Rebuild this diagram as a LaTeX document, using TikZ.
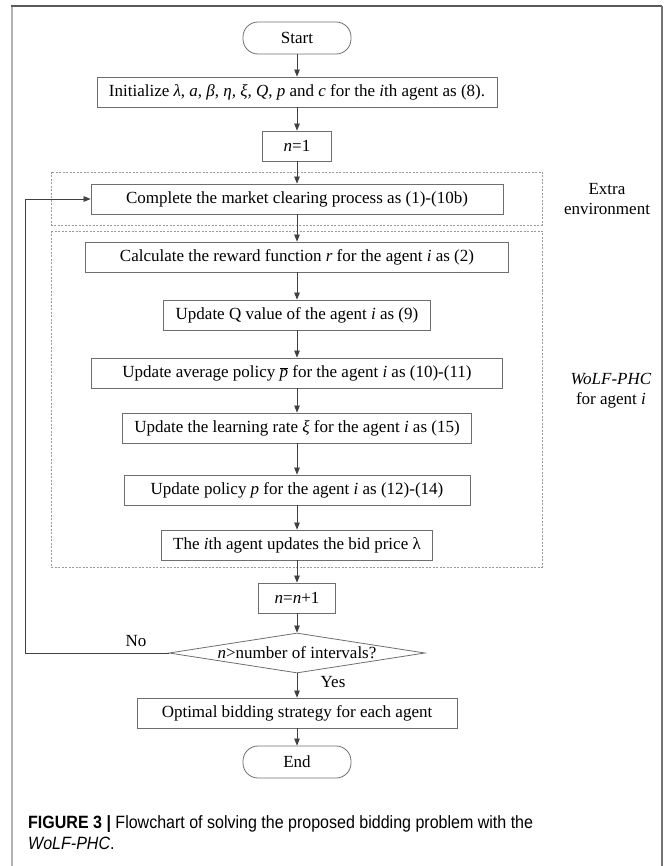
\documentclass[tikz,border=0pt]{standalone}
\usepackage{fontspec}
\setmainfont{Liberation Serif}
\newfontfamily\capfont[FakeStretch=0.9]{Liberation Sans}
\usetikzlibrary{arrows.meta,shapes.geometric,positioning}
\definecolor{linegray}{HTML}{6E6E6E}
\definecolor{dashgray}{HTML}{9A9A9A}
\begin{document}
\begin{tikzpicture}[x=1pt, y=-1pt,
  every node/.style={font=\fontsize{17}{20}\selectfont},
  stepbox/.style={draw=linegray, line width=0.8pt, minimum height=30pt, inner xsep=12pt, inner ysep=0pt},
  terminal/.style={stepbox, rounded corners=15pt, minimum width=108pt, minimum height=32pt},
  decision/.style={draw=linegray, line width=0.8pt, diamond, aspect=6.4, inner sep=0pt, minimum width=256pt, minimum height=40pt},
  flow/.style={draw=black!75, line width=0.7pt, -{Triangle[length=7pt,width=5.5pt]}},
  envbox/.style={draw=dashgray, line width=0.6pt, dash pattern=on 2pt off 1.5pt}]
  \useasboundingbox (0,0) rectangle (666,866);
  % Frame
  \draw[draw=black!30, line width=2.5pt] (12,866) -- (12,6);
  \draw[draw=black!65, line width=1.5pt] (11,6) -- (662,6);
  \draw[draw=black!55, line width=1.5pt] (662,6) -- (662,866);
  % Dashed groups
  \draw[envbox] (51,172) rectangle (542,225);
  \draw[envbox] (51,231) rectangle (542,567);
  \node[align=center] (extralabel) at (607,199) {Extra\\environment};
  \node[align=center] (wolflabel) at (611,391) {\textit{WoLF-PHC}\\for agent \textit{i}};
  % Steps
  \node[terminal] (start) at (297,38) {Start};
  \node[stepbox] (init) at (297,92) {Initialize \textit{λ}, \textit{a}, \textit{β}, \textit{η, ξ, Q}, \textit{p} and \textit{c} for the \textit{i}th agent as (8).};
  \node[stepbox, minimum width=69pt] (nset) at (297,146) {\textit{n}=1};
  \node[stepbox, minimum width=412pt] (clear) at (297,199) {Complete the market clearing process as (1)-(10b)};
  \node[stepbox, minimum width=423pt] (reward) at (297,257) {Calculate the reward function \textit{r} for the agent \textit{i} as (2)};
  \node[stepbox] (qval) at (297,315) {Update Q value of the agent \textit{i} as (9)};
  \node[stepbox, minimum width=411pt] (avgpol) at (297,373) {Update average policy $\overline{\mbox{\textit{p}}}$ for the agent \textit{i} as (10)-(11)};
  \node[stepbox] (lrate) at (297,428) {Update the learning rate \textit{ξ} for the agent \textit{i} as (15)};
  \node[stepbox, minimum width=346pt] (policy) at (297,490) {Update policy \textit{p} for the agent \textit{i} as (12)-(14)};
  \node[stepbox] (bid) at (297,545) {The \textit{i}th agent updates the bid price λ};
  \node[stepbox, minimum width=77pt] (nstep) at (297,598) {\textit{n}=\textit{n}+1};
  \node[decision] (check) at (297,653) {\makebox[0pt]{\textit{n}>number of intervals?}};
  \node[stepbox, minimum width=320pt] (best) at (297,713) {Optimal bidding strategy for each agent};
  \node[terminal] (stop) at (297,762) {End};
  % Connectors
  \foreach \a/\b in {start/init, init/nset, nset/clear, clear/reward, reward/qval, qval/avgpol,
                     avgpol/lrate, lrate/policy, policy/bid, bid/nstep, nstep/check, check/best, best/stop}
    \draw[flow] (\a) -- (\b);
  \coordinate (loopleft) at (25,653);
  \draw[flow] (check.west) -- (loopleft) |- (clear.west);
  \node (nolabel) at (136,641) {No};
  \node (yeslabel) at (333,682) {Yes};
  % Caption
  \node[anchor=north west, align=left, inner sep=0pt, font=\capfont\fontsize{17.8}{21}\selectfont] (caption) at (28,815)
    {\textbf{FIGURE 3} \textbf{|} Flowchart of solving the proposed bidding problem with the\\\textit{WoLF-PHC}.};
\end{tikzpicture}
\end{document}
